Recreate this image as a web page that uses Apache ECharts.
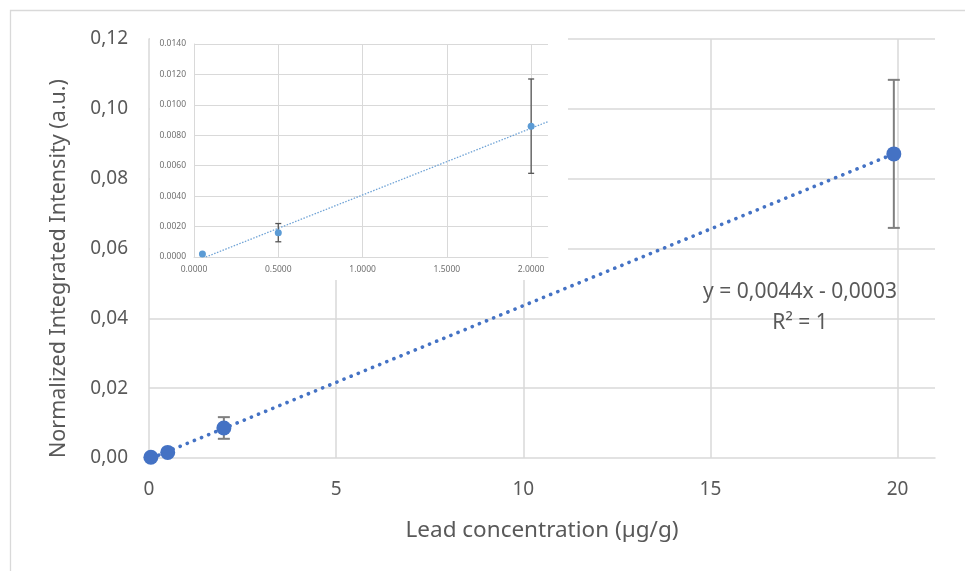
<!DOCTYPE html>
<html>
<head>
<meta charset="utf-8">
<script src="https://cdn.jsdelivr.net/npm/echarts@6/dist/echarts.min.js"></script>
<style>html,body{margin:0;padding:0;background:#fff;}#chart{width:965px;height:571px;}</style>
</head>
<body>
<div id="chart"></div>
<script>
// ---- data ----
const concentration = [0.05, 0.5, 2.0, 19.9];          // µg/g
const intensity     = [0.0002, 0.0016, 0.0086, 0.0871]; // a.u.
const errorBars     = [0.0000, 0.0006, 0.0031, 0.0212]; // ± a.u.
const insetCount    = 3;                                 // points shown in the inset
const trendMain     = [[0.07, 0.0000], [19.9, 0.0871]];
const trendInset    = [[0.07, 0.0000], [2.1, 0.0089]];
const mainXTicks    = [0, 5, 10, 15, 20];
const mainYTicks    = [0, 0.02, 0.04, 0.06, 0.08, 0.10, 0.12];
const insetXTicks   = [0, 0.5, 1.0, 1.5, 2.0];
const insetYTicks   = [0, 0.002, 0.004, 0.006, 0.008, 0.010, 0.012, 0.014];
const equationText  = 'y = 0,0044x - 0,0003';
const r2Text        = 'R² = 1';
const xTitle        = 'Lead concentration (µg/g)';
const yTitle        = 'Normalized Integrated Intensity (a.u.)';

const mainPts  = concentration.map((x, i) => [x, intensity[i]]);
const mainErr  = concentration.map((x, i) => [x, intensity[i], errorBars[i]]);
const insetPts = mainPts.slice(0, insetCount);
const insetErr = mainErr.slice(0, insetCount);

const FONT = 'Noto Sans';
const TXT = '#595959';
const GRID = '#d9d9d9';

function errorRenderer(cap, width, color) {
  return function (params, api) {
    const x = api.value(0), y = api.value(1), e = api.value(2);
    if (!e) return null;
    const top = api.coord([x, y + e]);
    const bot = api.coord([x, y - e]);
    const st = { stroke: color, lineWidth: width };
    return {
      type: 'group',
      children: [
        { type: 'line', shape: { x1: top[0], y1: top[1], x2: bot[0], y2: bot[1] }, style: st },
        { type: 'line', shape: { x1: top[0] - cap / 2, y1: top[1], x2: top[0] + cap / 2, y2: top[1] }, style: st },
        { type: 'line', shape: { x1: bot[0] - cap / 2, y1: bot[1], x2: bot[0] + cap / 2, y2: bot[1] }, style: st }
      ]
    };
  };
}

const chart = echarts.init(document.getElementById('chart'));
chart.setOption({
  animation: false,
  backgroundColor: '#fff',
  textStyle: { fontFamily: FONT },
  grid: [
    { left: 149, right: 30, top: 39, bottom: 113 },
    { left: 194, right: 417, top: 44, bottom: 314 }
  ],
  xAxis: [
    {
      gridIndex: 0, type: 'value', min: 0, max: 21, interval: 5,
      name: xTitle, nameLocation: 'middle', nameGap: 61,
      nameTextStyle: { fontFamily: FONT, fontSize: 22.5, color: TXT },
      axisLine: { show: true, lineStyle: { color: GRID, width: 1.5 } },
      axisTick: { show: false },
      axisLabel: { fontFamily: FONT, fontSize: 19, color: TXT, margin: 22, showMaxLabel: false,
        formatter: v => mainXTicks.includes(v) ? String(v) : '' },
      splitLine: { show: true, showMinLine: false, showMaxLine: false, lineStyle: { color: GRID, width: 1.5 } }
    },
    {
      gridIndex: 1, type: 'value', min: 0, max: 2.1, interval: 0.5, z: 5,
      axisLine: { show: true, lineStyle: { color: GRID, width: 1 } },
      axisTick: { show: false },
      axisLabel: { fontFamily: FONT, fontSize: 8.5, color: '#707070', margin: 8, showMaxLabel: false,
        formatter: v => insetXTicks.includes(v) ? v.toFixed(4) : '' },
      splitLine: { show: true, showMinLine: false, showMaxLine: false, lineStyle: { color: GRID, width: 1 } }
    }
  ],
  yAxis: [
    {
      gridIndex: 0, type: 'value', min: 0, max: 0.12, interval: 0.02,
      name: yTitle, nameLocation: 'middle', nameGap: 79,
      nameTextStyle: { fontFamily: FONT, fontSize: 21.5, color: TXT, padding: [0, 40, 0, 0] },
      axisLine: { show: true, lineStyle: { color: GRID, width: 1.5 } },
      axisTick: { show: false },
      axisLabel: { fontFamily: FONT, fontSize: 19, color: TXT, margin: 21,
        formatter: v => mainYTicks.some(t => Math.abs(t - v) < 1e-9) ? v.toFixed(2).replace('.', ',') : '' },
      splitLine: { show: true, showMinLine: false, lineStyle: { color: GRID, width: 1.5 } }
    },
    {
      gridIndex: 1, type: 'value', min: 0, max: 0.014, interval: 0.002, z: 5,
      axisLine: { show: true, lineStyle: { color: GRID, width: 1 } },
      axisTick: { show: false },
      axisLabel: { fontFamily: FONT, fontSize: 8.5, color: '#707070', margin: 8,
        formatter: v => insetYTicks.some(t => Math.abs(t - v) < 1e-9) ? v.toFixed(4) : '' },
      splitLine: { show: true, showMinLine: false, lineStyle: { color: GRID, width: 1 } }
    }
  ],
  graphic: [
    { type: 'rect', silent: true, z: 1, shape: { x: 150, y: 26, width: 418, height: 254 }, style: { fill: '#fff' } },
    { type: 'rect', silent: true, z: 0, shape: { x: 10.5, y: 10.5, width: 1100, height: 800 },
      style: { fill: 'none', stroke: GRID, lineWidth: 1.3 } },
    { type: 'text', silent: true, z: 6, x: 800, y: 292,
      style: { text: equationText, fontFamily: FONT, fontSize: 21, fill: TXT, textAlign: 'center', textVerticalAlign: 'middle' } },
    { type: 'text', silent: true, z: 6, x: 800, y: 323,
      style: { text: r2Text, fontFamily: FONT, fontSize: 21, fill: TXT, textAlign: 'center', textVerticalAlign: 'middle' } }
  ],
  series: [
    {
      type: 'line', xAxisIndex: 0, yAxisIndex: 0, data: trendMain, showSymbol: false, z: 3,
      lineStyle: { color: '#4472C4', width: 3.6, type: [0.1, 7.6], cap: 'round' }
    },
    {
      type: 'custom', xAxisIndex: 0, yAxisIndex: 0, data: mainErr, z: 4,
      renderItem: errorRenderer(12, 2, '#7f7f7f')
    },
    {
      type: 'scatter', xAxisIndex: 0, yAxisIndex: 0, data: mainPts, symbolSize: 15, z: 5,
      itemStyle: { color: '#4472C4', opacity: 1 }
    },
    {
      type: 'line', xAxisIndex: 1, yAxisIndex: 1, data: trendInset, showSymbol: false, z: 8,
      lineStyle: { color: '#6fa3d6', width: 1.3, type: [1.5, 1.5] }
    },
    {
      type: 'custom', xAxisIndex: 1, yAxisIndex: 1, data: insetErr, z: 9,
      renderItem: errorRenderer(6, 1.3, '#555555')
    },
    {
      type: 'scatter', xAxisIndex: 1, yAxisIndex: 1, data: insetPts, symbolSize: 7, z: 10,
      itemStyle: { color: '#5B9BD5', opacity: 1 }
    }
  ]
});
</script>
</body>
</html>
